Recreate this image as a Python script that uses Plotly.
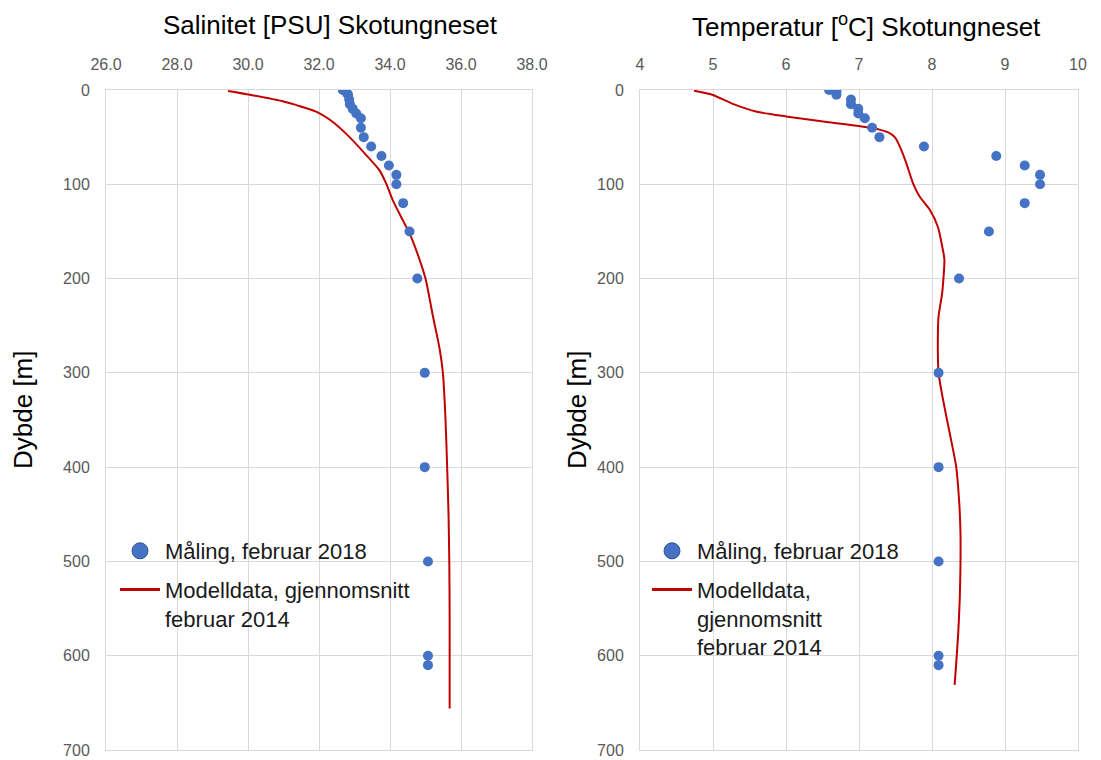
import plotly.graph_objects as go

# ---- data ----
obs_depth = [0, 1, 3, 5, 10, 15, 20, 25, 30, 40, 50, 60, 70, 80, 90, 100, 120, 150, 200, 300, 400, 500, 600, 610]
obs_sal = [32.67, 32.74, 32.78, 32.82, 32.85, 32.87, 32.95, 33.05, 33.18, 33.18, 33.26, 33.47, 33.76, 33.97,
           34.18, 34.18, 34.37, 34.55, 34.77, 34.98, 34.98, 35.07, 35.07, 35.07]
obs_temp = [6.59, 6.69, 6.69, 6.69, 6.89, 6.89, 6.99, 6.99, 7.08, 7.18, 7.28, 7.89, 8.88, 9.27,
            9.48, 9.48, 9.27, 8.78, 8.37, 8.09, 8.09, 8.09, 8.09, 8.09]

sal_model_depth = [1, 5, 12, 23, 34, 50, 69, 85, 99, 117, 138, 152, 170, 200, 240, 275, 300, 346, 400, 452,
                   500, 558, 600, 656]
sal_model = [29.44, 30.05, 30.98, 31.92, 32.39, 32.86, 33.33, 33.70, 33.89, 34.08, 34.36, 34.55, 34.74, 35.00,
             35.21, 35.40, 35.49, 35.56, 35.61, 35.65, 35.67, 35.68, 35.68, 35.68]

temp_model_depth = [0.7, 5, 15, 23, 28, 34, 38, 42, 45, 50, 60, 78, 99, 113, 127, 145, 170, 180, 215, 240, 265,
                    300, 328, 363, 399, 434, 469, 505, 540, 575, 610, 631]
temp_model = [4.74, 4.99, 5.28, 5.60, 6.00, 6.56, 6.97, 7.28, 7.40, 7.49, 7.56, 7.65, 7.74, 7.83, 7.97, 8.08,
              8.15, 8.17, 8.14, 8.09, 8.08, 8.09, 8.15, 8.24, 8.33, 8.37, 8.39, 8.39, 8.38, 8.36, 8.33, 8.31]

sal_ticks = [26, 28, 30, 32, 34, 36, 38]
sal_ticklabels = ["26.0", "28.0", "30.0", "32.0", "34.0", "36.0", "38.0"]
temp_ticks = [4, 5, 6, 7, 8, 9, 10]
depth_ticks = [0, 100, 200, 300, 400, 500, 600, 700]

titles = ["Salinitet [PSU] Skotungneset", "Temperatur [<sup>o</sup>C] Skotungneset"]
ytitle = "Dybde [m]"
leg_obs = "Måling, februar 2018"
leg_model_left = "Modelldata, gjennomsnitt<br>februar 2014"
leg_model_right = "Modelldata,<br>gjennomsnitt<br>februar 2014"

# ---- style ----
W, H = 1101, 760
BLUE = "#4472C4"
RED = "#C00000"
GRID = "#D9D9D9"
TICK = "#595959"
FONT = "Liberation Sans, Arial, sans-serif"

def px_x(p):
    return p / W

def px_y(p):
    return 1 - p / H

fig = go.Figure()

# left panel
fig.add_trace(go.Scatter(x=sal_model, y=sal_model_depth, mode="lines", line=dict(color=RED, width=2, shape="spline", smoothing=0.6),
                         xaxis="x", yaxis="y", showlegend=False))
fig.add_trace(go.Scatter(x=obs_sal, y=obs_depth, mode="markers", marker=dict(color=BLUE, size=10),
                         xaxis="x", yaxis="y", showlegend=False))
# right panel
fig.add_trace(go.Scatter(x=temp_model, y=temp_model_depth, mode="lines", line=dict(color=RED, width=2, shape="spline", smoothing=0.6),
                         xaxis="x2", yaxis="y2", showlegend=False))
fig.add_trace(go.Scatter(x=obs_temp, y=obs_depth, mode="markers", marker=dict(color=BLUE, size=10),
                         xaxis="x2", yaxis="y2", showlegend=False))

# legend entries
for leg, xa, ya, mtxt in [("legend", "x", "y", leg_model_left), ("legend2", "x2", "y2", leg_model_right)]:
    fig.add_trace(go.Scatter(x=[None], y=[None], mode="markers", name=leg_obs,
                             marker=dict(color=BLUE, size=16, line=dict(color="#2F528F", width=1)),
                             xaxis=xa, yaxis=ya, legend=leg, legendgroup="obs", showlegend=True))
    fig.add_trace(go.Scatter(x=[None], y=[None], mode="lines", name=mtxt,
                             line=dict(color=RED, width=3),
                             xaxis=xa, yaxis=ya, legend=leg, legendgroup="model", showlegend=True))

axis_common = dict(showgrid=True, gridcolor=GRID, gridwidth=1, zeroline=False, automargin=False,
                   tickfont=dict(family=FONT, size=16, color=TICK), ticks="",
                   showline=True, linecolor=GRID, linewidth=1, mirror=True)

leg_common = dict(xanchor="left", yanchor="top", bgcolor="rgba(0,0,0,0)", valign="top",
                  font=dict(family=FONT, size=22, color="#1a1a1a"), itemwidth=40, tracegroupgap=7)

fig.update_layout(
    width=W, height=H,
    margin=dict(l=0, r=0, t=0, b=0, autoexpand=False),
    paper_bgcolor="white", plot_bgcolor="white",
    font=dict(family=FONT, color="black"),
    xaxis=dict(domain=[px_x(106), px_x(532)], range=[26, 38], tickvals=sal_ticks, ticktext=sal_ticklabels,
               side="top", anchor="y", ticklabelstandoff=13, **axis_common),
    yaxis=dict(domain=[px_y(750), px_y(90)], range=[700, 0], tickvals=depth_ticks, anchor="x",
               ticklabelstandoff=12, **axis_common),
    xaxis2=dict(domain=[px_x(640), px_x(1078)], range=[4, 10], tickvals=temp_ticks,
                side="top", anchor="y2", ticklabelstandoff=13, **axis_common),
    yaxis2=dict(domain=[px_y(750), px_y(90)], range=[700, 0], tickvals=depth_ticks, anchor="x2",
                ticklabelstandoff=12, **axis_common),
    legend=dict(x=px_x(115), y=px_y(530), **leg_common),
    legend2=dict(x=px_x(647), y=px_y(530), **leg_common),
    annotations=[
        dict(text=titles[0], x=px_x(330), y=px_y(25), xref="paper", yref="paper", showarrow=False,
             font=dict(family=FONT, size=26, color="black"), xanchor="center", yanchor="middle"),
        dict(text=titles[1], x=px_x(866), y=px_y(25), xref="paper", yref="paper", showarrow=False,
             font=dict(family=FONT, size=26, color="black"), xanchor="center", yanchor="middle"),
        dict(text=ytitle, x=px_x(23), y=px_y(410), xref="paper", yref="paper", showarrow=False, textangle=-90,
             font=dict(family=FONT, size=26, color="black"), xanchor="center", yanchor="middle"),
        dict(text=ytitle, x=px_x(577), y=px_y(410), xref="paper", yref="paper", showarrow=False, textangle=-90,
             font=dict(family=FONT, size=26, color="black"), xanchor="center", yanchor="middle"),
    ],
)

fig.write_html("out.html")
